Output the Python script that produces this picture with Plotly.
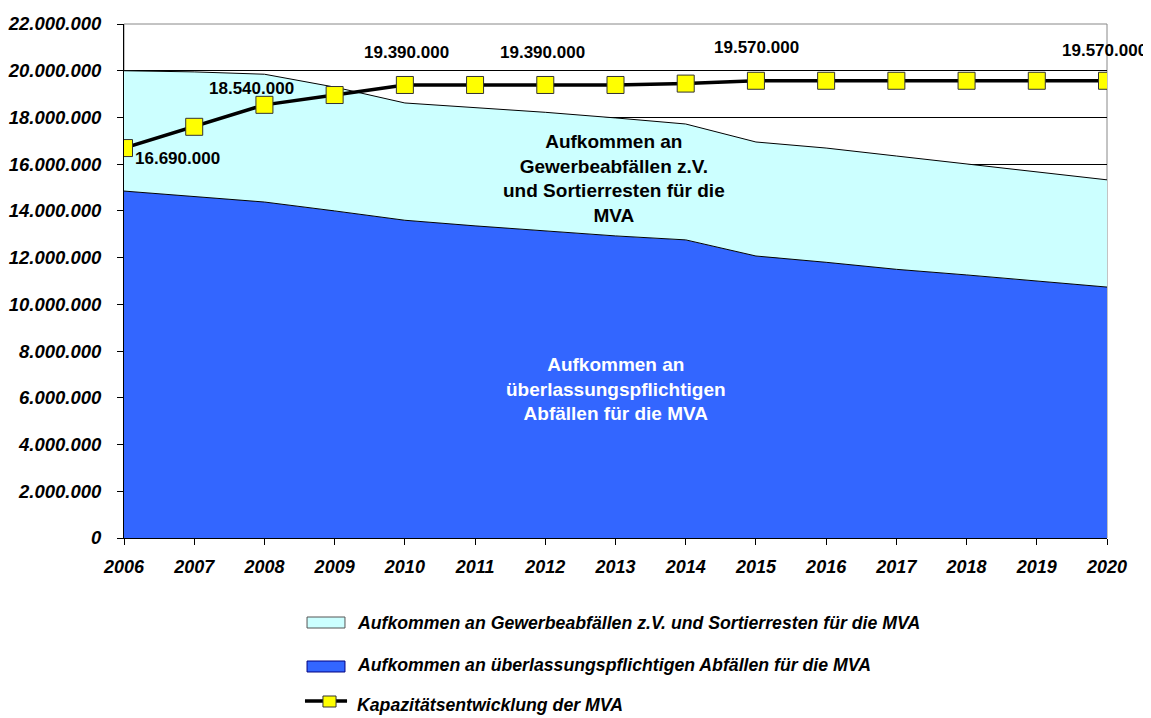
import plotly.graph_objects as go

years = list(range(2006, 2021))
ueberlassung = [14850000, 14600000, 14380000, 14000000, 13600000, 13360000, 13140000,
                12930000, 12760000, 12070000, 11800000, 11500000, 11260000, 11000000, 10740000]
gewerbe = [5150000, 5350000, 5470000, 5300000, 5020000, 5060000, 5080000,
           5050000, 4960000, 4880000, 4890000, 4850000, 4740000, 4670000, 4590000]
kapazitaet = [16690000, 17600000, 18540000, 18960000, 19390000, 19390000, 19390000,
              19390000, 19450000, 19570000, 19570000, 19570000, 19570000, 19570000, 19570000]

name_gew = "Aufkommen an Gewerbeabfällen z.V. und Sortierresten für die MVA"
name_ueb = "Aufkommen an überlassungspflichtigen Abfällen für die MVA"
name_kap = "Kapazitätsentwicklung der MVA"

labeled_years = [2006, 2008, 2010, 2012, 2015, 2020]
label_offsets = {2006: (53, -10), 2008: (-13, 16), 2010: (2, 32), 2012: (-3, 32),
                 2015: (1, 33), 2020: (-3, 30)}

FONT = "Liberation Sans, Arial, sans-serif"
C_GEW = "#CCFFFF"
C_UEB = "#3366FF"
C_MARK = "#FFFF00"

fig = go.Figure()
fig.add_trace(go.Scatter(
    x=years, y=ueberlassung, name=name_ueb, stackgroup="one", mode="lines",
    line=dict(color="#000000", width=1), fillcolor=C_UEB,
    showlegend=False, hoverinfo="skip"))
fig.add_trace(go.Scatter(
    x=years, y=gewerbe, name=name_gew, stackgroup="one", mode="lines",
    line=dict(color="#000000", width=1), fillcolor=C_GEW,
    showlegend=False, hoverinfo="skip"))
fig.add_trace(go.Scatter(
    x=years, y=kapazitaet, name=name_kap, mode="lines+markers",
    line=dict(color="#000000", width=3.5),
    marker=dict(symbol="square", size=17, color=C_MARK,
                line=dict(color="#333333", width=1)),
    showlegend=False, hoverinfo="skip"))

def fmt(v):
    return f"{v:,}".replace(",", ".")

for yr in labeled_years:
    i = years.index(yr)
    dx, dy = label_offsets[yr]
    fig.add_annotation(x=yr, y=kapazitaet[i], text=fmt(kapazitaet[i]), showarrow=False,
                       xshift=dx, yshift=dy,
                       font=dict(family=FONT, size=17, color="#000000", weight="bold"))

fig.add_annotation(x=2012.98, y=15390000, yanchor="middle",
                   text="Aufkommen an<br>Gewerbeabfällen z.V.<br>und Sortierresten für die<br>MVA",
                   showarrow=False, font=dict(family=FONT, size=19, color="#000000", weight="bold"))
fig.add_annotation(x=2013.0, y=6380000, yanchor="middle",
                   text="Aufkommen an<br>überlassungspflichtigen<br>Abfällen für die MVA",
                   showarrow=False, font=dict(family=FONT, size=19, color="#FFFFFF", weight="bold"))

# plot border
fig.add_shape(type="rect", xref="paper", yref="paper", x0=0, x1=1, y0=0, y1=1,
              line=dict(color="#888888", width=1), layer="below")

# legend (drawn in paper coordinates below the plot)
LEG_FONT = dict(family=FONT, size=17.7, color="#000000", style="italic", weight="bold")
TX = 0.235
fig.add_shape(type="rect", xref="paper", yref="paper", x0=0.1862, x1=0.2248,
              y0=-0.1537, y1=-0.1751, fillcolor=C_GEW, line=dict(color="#555555", width=1))
fig.add_annotation(xref="paper", yref="paper", x=TX, y=-0.1654, xanchor="left",
                   yanchor="middle", text=name_gew, showarrow=False, font=LEG_FONT)
fig.add_shape(type="rect", xref="paper", yref="paper", x0=0.1862, x1=0.2248,
              y0=-0.2393, y1=-0.2607, fillcolor=C_UEB, line=dict(color="#000080", width=1))
fig.add_annotation(xref="paper", yref="paper", x=TX, y=-0.2471, xanchor="left",
                   yanchor="middle", text=name_ueb, showarrow=False, font=LEG_FONT)
fig.add_shape(type="line", xref="paper", yref="paper", x0=0.1841, x1=0.2269,
              y0=-0.3171, y1=-0.3171, line=dict(color="#000000", width=3.5))
fig.add_shape(type="rect", xref="paper", yref="paper", x0=0.2024, x1=0.2157,
              y0=-0.3074, y1=-0.3288, fillcolor=C_MARK, line=dict(color="#333333", width=1))
fig.add_annotation(xref="paper", yref="paper", x=TX, y=-0.3249, xanchor="left",
                   yanchor="middle", text=name_kap, showarrow=False, font=LEG_FONT)

fig.update_layout(
    width=1143, height=710,
    margin=dict(l=116, r=44, t=16, b=180, autoexpand=False),
    paper_bgcolor="#FFFFFF", plot_bgcolor="#FFFFFF",
    separators=",.",
    showlegend=False,
    xaxis=dict(range=[2006, 2020], tickmode="array", tickvals=years,
               ticktext=[str(y) for y in years], showgrid=False,
               showline=True, linecolor="#000000", linewidth=1,
               ticks="outside", ticklen=6, tickcolor="#000000", ticklabelstandoff=6,
               tickfont=dict(family=FONT, size=18, color="#000000", style="italic", weight="bold"),
               zeroline=False),
    yaxis=dict(range=[0, 22000000], dtick=2000000, tickformat=",.0f",
               showgrid=True, gridcolor="#000000", gridwidth=1,
               showline=True, linecolor="#000000", linewidth=1,
               ticks="outside", ticklen=6, tickcolor="#000000", ticklabelstandoff=12,
               tickfont=dict(family=FONT, size=18.5, color="#000000", style="italic", weight="bold"),
               zeroline=False),
)

fig.write_html("out.html")
